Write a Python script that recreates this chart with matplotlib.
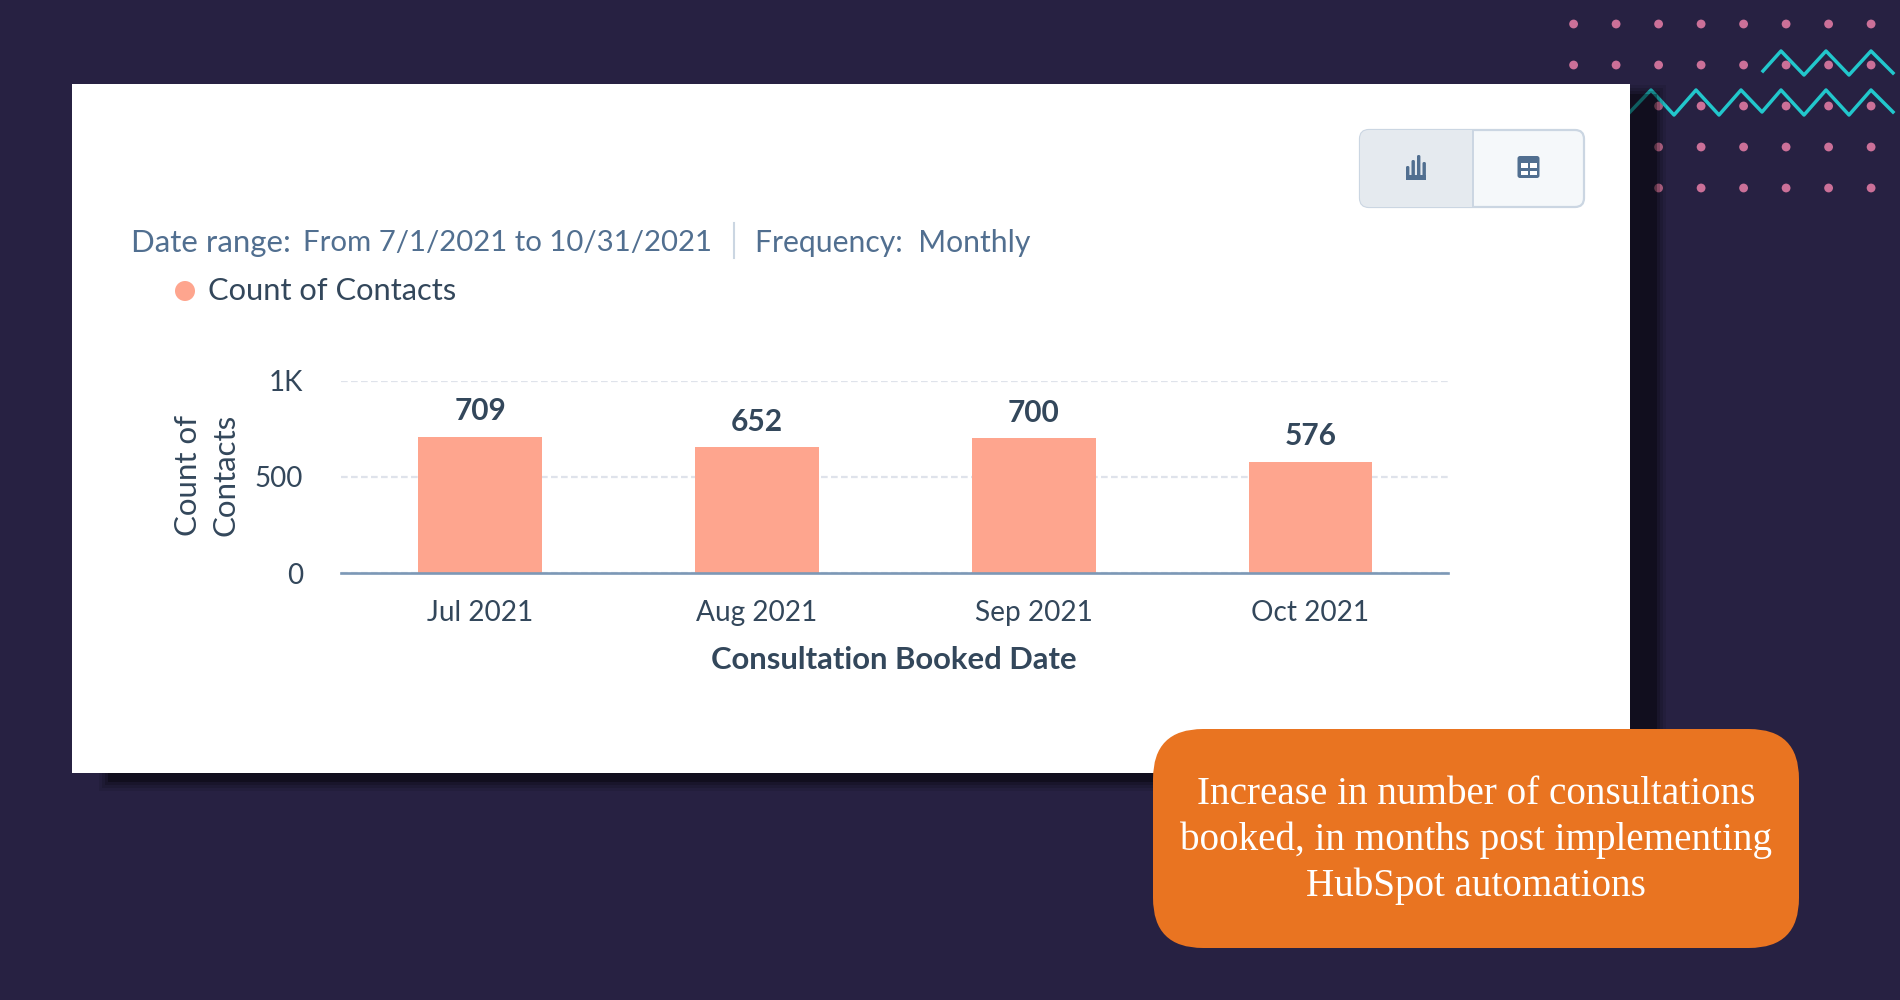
import matplotlib
matplotlib.use("Agg")
import matplotlib.pyplot as plt
from matplotlib.patches import Rectangle, FancyBboxPatch, Circle

# Data
months = ["Jul 2021", "Aug 2021", "Sep 2021", "Oct 2021"]
contacts = [709, 652, 700, 576]
y_ticks = [0, 500, 1000]
y_tick_labels = ["0", "500", "1K"]

BG = "#272142"
NAVY = "#33475B"
SLATE = "#516F90"
BORDER = "#CBD6E2"
SANS = "Lato"

fig = plt.figure(figsize=(19, 10), dpi=100, facecolor=BG)

# Background layer in pixel coordinates
bg = fig.add_axes([0, 0, 1, 1], zorder=0)
bg.set_xlim(0, 1900)
bg.set_ylim(1000, 0)
bg.axis("off")

# Decoration: dots and zigzags
dot_x = [1573.6 + 42.5 * i for i in range(8)]
dot_y = [24, 65, 106, 147, 188]
for row, y in enumerate(dot_y):
    for col, x in enumerate(dot_x):
        if row >= 2 and col < 2:
            continue
        bg.add_patch(Circle((x, y), 4.4, color="#CB7098", lw=0, zorder=1))

zig_top_x = [1763, 1781, 1804, 1826, 1849, 1871, 1893]
zig_top_y = [71, 51, 75, 51, 75, 51, 73]
zig_low_x = [1630, 1651, 1674, 1696, 1719, 1741, 1762, 1781, 1804, 1826, 1849, 1871, 1893]
zig_low_y = [112, 90, 115, 90, 115, 90, 112, 90, 115, 90, 115, 90, 112]
bg.plot(zig_top_x, zig_top_y, color="#22C7CC", lw=2.5, zorder=2)
bg.plot(zig_low_x, zig_low_y, color="#22C7CC", lw=2.5, zorder=2)

# Card shadow, a few stacked layers for the soft edge
for grow, alpha in [(7, 0.08), (4, 0.12), (1, 0.16), (-2, 0.3)]:
    bg.add_patch(Rectangle((106 - grow, 92 - grow), 1553 + 2 * grow, 692 + 2 * grow,
                           color="black", alpha=alpha, lw=0, zorder=3))

# White card
bg.add_patch(Rectangle((71.5, 83.5), 1558.5, 689.5, color="white", lw=0, zorder=4))

# View toggle
bg.add_patch(FancyBboxPatch((1360, 130), 224, 77, boxstyle="round,pad=0,rounding_size=9",
                            fc="#F5F8FA", ec=BORDER, lw=1.6, zorder=5))
left_half = FancyBboxPatch((1360, 130), 224, 77, boxstyle="round,pad=0,rounding_size=9",
                           fc="#E5EAEF", ec="none", zorder=5.1)
bg.add_patch(left_half)
left_half.set_clip_path(Rectangle((1358, 128), 114.5, 81, transform=bg.transData))
bg.plot([1472.5, 1472.5], [130, 207], color=BORDER, lw=1.4, zorder=5.2)

# Bar icon
for x, top in [(1406, 166), (1411.5, 160), (1417, 155), (1422.5, 162)]:
    bg.add_patch(FancyBboxPatch((x, top), 3.4, 180 - top, boxstyle="round,pad=0,rounding_size=1.5",
                                fc=SLATE, ec="none", zorder=6))
bg.add_patch(Rectangle((1406, 175), 20, 5, color=SLATE, lw=0, zorder=6))

# Table icon
bg.add_patch(FancyBboxPatch((1517.5, 156), 22, 22, boxstyle="round,pad=0,rounding_size=2.5",
                            fc=SLATE, ec="none", zorder=6))
for x in [1520.5, 1530]:
    for y in [163, 170.5]:
        bg.add_patch(Rectangle((x, y), 7, 4.5, color="white", lw=0, zorder=7))

# Filter line and legend
bg.text(131, 243, "Date range:", family=SANS, fontsize=22.4,
        color=SLATE, va="center", ha="left", zorder=6)
bg.text(303, 243, "From 7/1/2021 to 10/31/2021", family=SANS, fontsize=21.2,
        color=SLATE, va="center", ha="left", zorder=6)
bg.plot([734, 734], [223, 258], color=BORDER, lw=1.5, zorder=6)
bg.text(755, 243, "Frequency:  Monthly", family=SANS, fontsize=21.7,
        color=SLATE, va="center", ha="left", zorder=6)
bg.add_patch(Circle((185, 291), 10, color="#FEA58E", lw=0, zorder=6))
bg.text(208, 291, "Count of Contacts", family=SANS, fontsize=22.2,
        color=NAVY, va="center", ha="left", zorder=6)

# Bar chart
ax = fig.add_axes([340.5 / 1900, 1 - 573 / 1000, 1107 / 1900, 192.5 / 1000], zorder=1)
ax.patch.set_alpha(0)
positions = list(range(len(months)))
bars = ax.bar(positions, contacts, width=0.447, color="#FEA58E", zorder=3)
ax.set_xlim(-0.505, 3.495)
ax.set_ylim(0, 1000)
ax.set_xticks(positions, months)
ax.set_yticks(y_ticks, y_tick_labels)
ax.grid(axis="y", color="#DFE3EB", lw=1.6, ls=(0, (3, 1.5)), zorder=0)
ax.set_axisbelow(True)
for side in ["top", "left", "right"]:
    ax.spines[side].set_visible(False)
ax.spines["bottom"].set_color("#7C98B6")
ax.spines["bottom"].set_linewidth(1.9)
ax.spines["bottom"].set_zorder(4)
ax.tick_params(axis="x", length=0, pad=19.7, labelsize=20.2, labelcolor=NAVY)
ax.tick_params(axis="y", length=0, pad=27, labelsize=20, labelcolor=NAVY)
for lab in ax.get_xticklabels() + ax.get_yticklabels():
    lab.set_family(SANS)

for bar, val in zip(bars, contacts):
    ax.annotate(str(val), (bar.get_x() + bar.get_width() / 2, val), xytext=(0, 18.5),
                textcoords="offset points", ha="center", va="center",
                family=SANS, fontsize=21.5, fontweight="bold", color=NAVY)

bg.text(894, 660, "Consultation Booked Date", family=SANS, fontsize=22.3, fontweight="bold",
        color=NAVY, ha="center", va="center", zorder=6)
bg.text(206.5, 475, "Count of\nContacts", family=SANS, fontsize=22.5, color=NAVY, rotation=90,
        ha="center", va="center", ma="center", linespacing=1.4, zorder=6)

# Callout on top of everything
top = fig.add_axes([0, 0, 1, 1], zorder=2)
top.set_xlim(0, 1900)
top.set_ylim(1000, 0)
top.axis("off")
top.add_patch(FancyBboxPatch((1153, 729), 646, 219, boxstyle="round,pad=0,rounding_size=50",
                             fc="#E97421", ec="none"))
callout = ["Increase in number of consultations",
           "booked, in months post implementing",
           "HubSpot automations"]
for i, line in enumerate(callout):
    top.text(1476, 794 + 46 * i, line, family="Liberation Serif", fontsize=28.2, color="white",
             ha="center", va="center")

fig.savefig("out.png", dpi=100, facecolor=BG)
